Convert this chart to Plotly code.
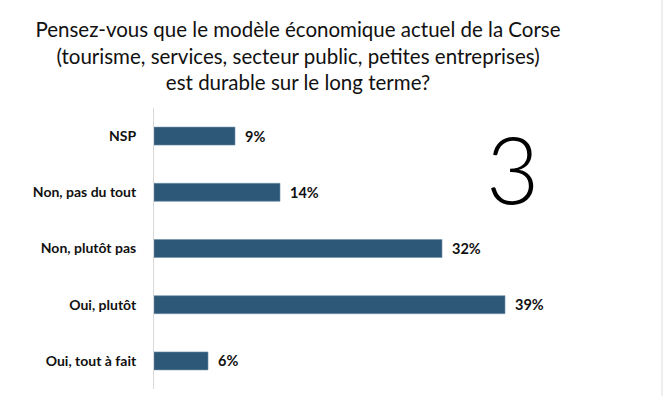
import plotly.graph_objects as go

categories = ["NSP", "Non, pas du tout", "Non, plutôt pas", "Oui, plutôt", "Oui, tout à fait"]
values = [9, 14, 32, 39, 6]
value_labels = ["9%", "14%", "32%", "39%", "6%"]
title_lines = [
    "Pensez-vous que le modèle économique actuel de la Corse",
    "(tourisme, services, secteur public, petites entreprises)",
    "est durable sur le long terme?",
]
big_number = "3"

W, H = 664, 396
bar_color = "#2E5878"

fig = go.Figure()
fig.add_trace(go.Bar(
    x=values, y=categories, orientation="h",
    marker=dict(color=bar_color, line=dict(color="#6f8fa8", width=0.6)),
    hoverinfo="skip",
))

for c, v, t in zip(categories, values, value_labels):
    fig.add_annotation(x=v, y=c, text=t, showarrow=False, xanchor="left",
                       xshift=8, font=dict(family="Lato", size=14.5, color="#111111", weight="bold"))

fig.add_annotation(xref="paper", yref="paper", x=(512 - 154) / 450, y=(H - 168 - 7) / 281,
                   text=big_number, showarrow=False, xanchor="center", yanchor="middle",
                   font=dict(family="Lato", size=92, color="#000000", weight=300))

fig.update_layout(
    width=W, height=H,
    margin=dict(l=154, r=60, t=108, b=7, autoexpand=False),
    paper_bgcolor="white", plot_bgcolor="white",
    showlegend=False,
    bargap=0.68,
    title=dict(text="<br>".join(title_lines), xref="container", yref="container",
               x=298 / W, xanchor="center", y=1 - 37 / H, yanchor="top",
               font=dict(family="Lato", size=20.5, color="#111111"), automargin=False),
    xaxis=dict(range=[0, 50], visible=False, fixedrange=True),
    yaxis=dict(autorange="reversed", showline=True, linecolor="#d9d9d9", linewidth=1,
               ticks="", showgrid=False, zeroline=False, ticklabelstandoff=14, automargin=False,
               tickfont=dict(family="Lato", size=14, color="#111111", weight="bold")),
    shapes=[dict(type="line", xref="paper", yref="paper", x0=(662 - 154) / 450, x1=(662 - 154) / 450,
                 y0=-7 / 281, y1=(H - 7) / 281, line=dict(color="#eeeeee", width=2))],
)

fig.write_html("out.html", config={"displayModeBar": False},
               post_script="document.body.style.margin='0';")
